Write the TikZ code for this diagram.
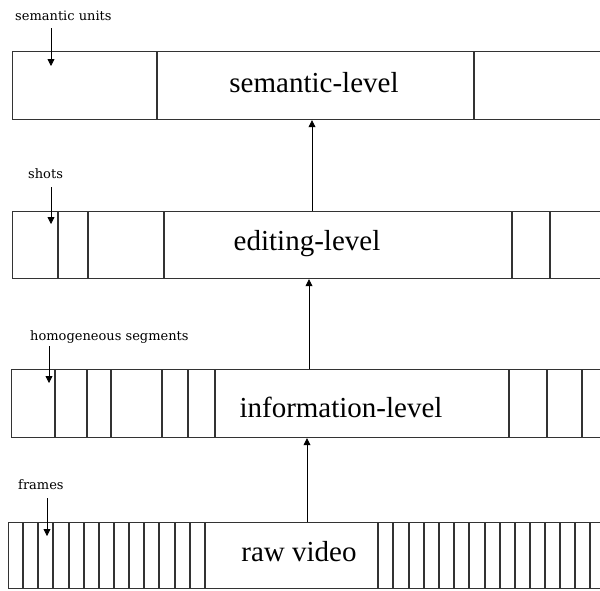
\documentclass[tikz,border=0pt]{standalone}
\usepackage{fontspec}
\setmainfont{Liberation Serif}
\newfontfamily\labfont{DejaVu Serif}
\usetikzlibrary{arrows.meta}
\begin{document}
\begin{tikzpicture}[x=1pt,y=-1pt,
  band/.style={draw=black!80, line width=1.2pt, inner sep=0pt, anchor=north west, minimum width=620pt},
  divl/.style={draw=black!80, line width=1.2pt},
  lvl/.style={font=\fontsize{29}{29}\selectfont, inner sep=0pt, anchor=base},
  small/.style={font=\labfont\fontsize{13}{13}\selectfont, inner sep=0pt, anchor=base west},
  arr/.style={-{Triangle[width=7pt,length=7pt]}, line width=0.8pt, black}]
\useasboundingbox (0,0) rectangle (600,590);
% bands
\node[band, minimum height=68pt] (sem) at (12,51) {};
\node[band, minimum height=67pt] (edit) at (12,211) {};
\node[band, minimum height=68pt] (info) at (11,369) {};
\node[band, minimum height=66pt] (raw) at (8,522) {};
% dividers
\foreach \x in {157,474} \draw[divl] (\x,51) -- (\x,119);
\foreach \x in {58,88,164,512,550} \draw[divl] (\x,211) -- (\x,278);
\foreach \x in {55,87,111,162,188,215,509,547,582} \draw[divl] (\x,369) -- (\x,437);
\foreach \x in {23,38,53,69,84,99,114,129,144,159,175,190,205,378,393,409,424,439,454,469,485,500,515,530,545,560,575,590} \draw[divl] (\x,522) -- (\x,588);
% level texts
\node[lvl] (semt) at (314,92) {semantic-level};
\node[lvl] (editt) at (307,250) {editing-level};
\node[lvl] (infot) at (341,417) {information-level};
\node[lvl] (rawt) at (299,561) {raw video};
% level arrows
\coordinate (c1) at (307,0);
\coordinate (c2) at (309,0);
\coordinate (c3) at (312,0);
\draw[arr] (c1 |- raw.north) -- (c1 |- info.south);
\draw[arr] (c2 |- info.north) -- (c2 |- edit.south);
\draw[arr] (c3 |- edit.north) -- (c3 |- sem.south);
% small labels
\node[small] (lsem) at (15,20) {semantic units};
\node[small] (lshot) at (28,178) {shots};
\node[small] (lhom) at (30,340) {homogeneous segments};
\node[small] (lfr) at (18,489) {frames};
% small arrows
\coordinate (a1) at (51,28); \coordinate (b1) at (51,66);
\coordinate (a2) at (51,187); \coordinate (b2) at (51,224);
\coordinate (a3) at (49,346); \coordinate (b3) at (49,383);
\coordinate (a4) at (47,498); \coordinate (b4) at (47,536);
\draw[arr] (a1) -- (b1);
\draw[arr] (a2) -- (b2);
\draw[arr] (a3) -- (b3);
\draw[arr] (a4) -- (b4);
\end{tikzpicture}
\end{document}
